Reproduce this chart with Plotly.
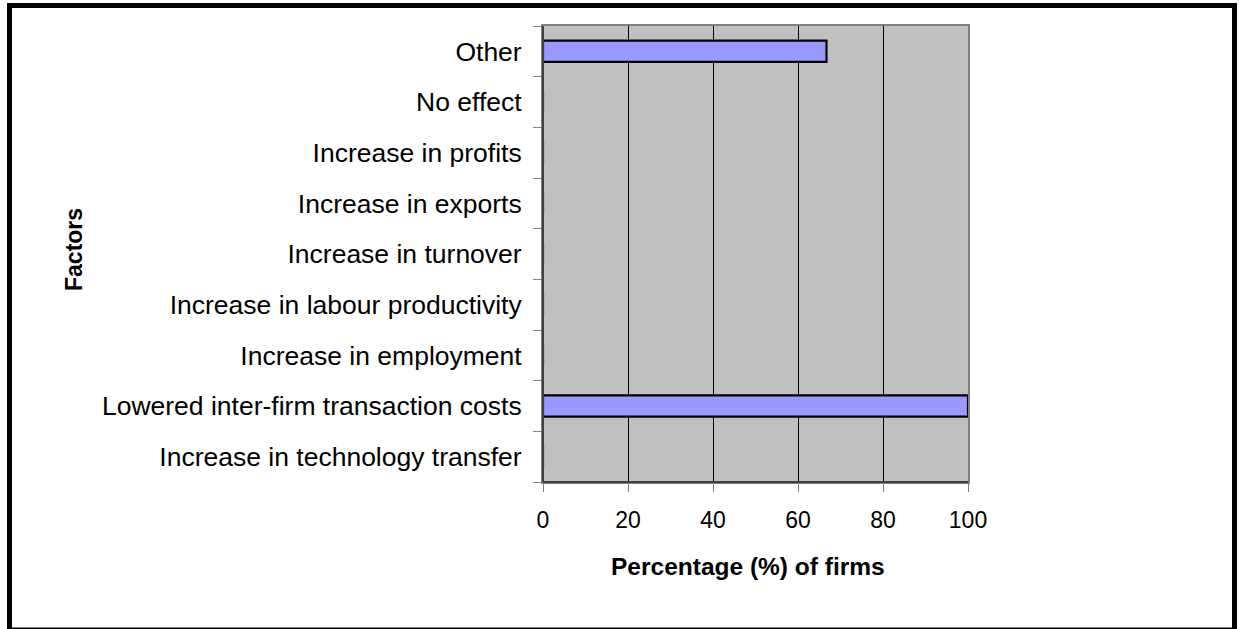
import plotly.graph_objects as go

# Survey results: share of firms reporting each effect (bottom to top)
factors = [
    "Increase in technology transfer",
    "Lowered inter-firm transaction costs",
    "Increase in employment",
    "Increase in labour productivity",
    "Increase in turnover",
    "Increase in exports",
    "Increase in profits",
    "No effect",
    "Other",
]
percent_firms = [0, 100, 0, 0, 0, 0, 0, 0, 66.7]
x_ticks = [0, 20, 40, 60, 80, 100]

W, H = 1239, 629
L, R, T, B = 543, 968, 26, 482  # plot area in pixels


def px_x(p):
    return (p - L) / (R - L)


def px_y(p):
    return (B - p) / (B - T)


FONT = "Liberation Sans, Arial, sans-serif"

fig = go.Figure(
    go.Bar(
        x=percent_firms,
        y=factors,
        orientation="h",
        marker=dict(color="#9999FF", line=dict(color="black", width=2.2)),
        hoverinfo="x+y",
    )
)

fig.update_layout(
    width=W,
    height=H,
    margin=dict(l=L, r=W - R, t=T, b=H - B, autoexpand=False),
    paper_bgcolor="white",
    plot_bgcolor="#C0C0C0",
    bargap=0.58,
    showlegend=False,
    font=dict(family=FONT, size=23, color="black"),
)

fig.update_xaxes(
    range=[0, 100],
    tickvals=x_ticks,
    ticks="outside",
    ticklen=8,
    tickwidth=1,
    tickcolor="#808080",
    showgrid=True,
    gridcolor="black",
    gridwidth=1,
    showline=True,
    linecolor="#808080",
    linewidth=2,
    mirror=True,
    zeroline=False,
    ticklabelstandoff=8,
    tickfont=dict(size=23),
    fixedrange=True,
)

fig.update_yaxes(
    categoryorder="array",
    categoryarray=factors,
    tickson="boundaries",
    ticks="outside",
    ticklen=8,
    tickwidth=1,
    tickcolor="#808080",
    showgrid=False,
    showline=True,
    linecolor="#808080",
    linewidth=2,
    mirror=True,
    ticklabelstandoff=14,
    tickfont=dict(size=26.5),
    fixedrange=True,
)

# darker left and bottom axis lines
fig.add_shape(type="line", xref="paper", yref="paper", x0=0, x1=0, y0=0, y1=1,
              line=dict(color="#404040", width=2), layer="above")
fig.add_shape(type="line", xref="paper", yref="paper", x0=0, x1=1, y0=0, y1=0,
              line=dict(color="#404040", width=2), layer="above")

# outer chart frame
fig.add_shape(type="rect", xref="paper", yref="paper",
              x0=px_x(9.5), x1=px_x(1234.5), y0=px_y(630), y1=px_y(5.5),
              line=dict(color="black", width=5), fillcolor="rgba(0,0,0,0)",
              layer="above")

# axis titles
fig.add_annotation(text="<b>Percentage (%) of firms</b>", xref="paper", yref="paper",
                   x=px_x(748), y=px_y(566), showarrow=False,
                   font=dict(family=FONT, size=24.5, color="black"),
                   xanchor="center", yanchor="middle")
fig.add_annotation(text="<b>Factors</b>", xref="paper", yref="paper",
                   x=px_x(74), y=px_y(250), showarrow=False, textangle=-90,
                   font=dict(family=FONT, size=23, color="black"),
                   xanchor="center", yanchor="middle")

fig.write_html("out.html")
